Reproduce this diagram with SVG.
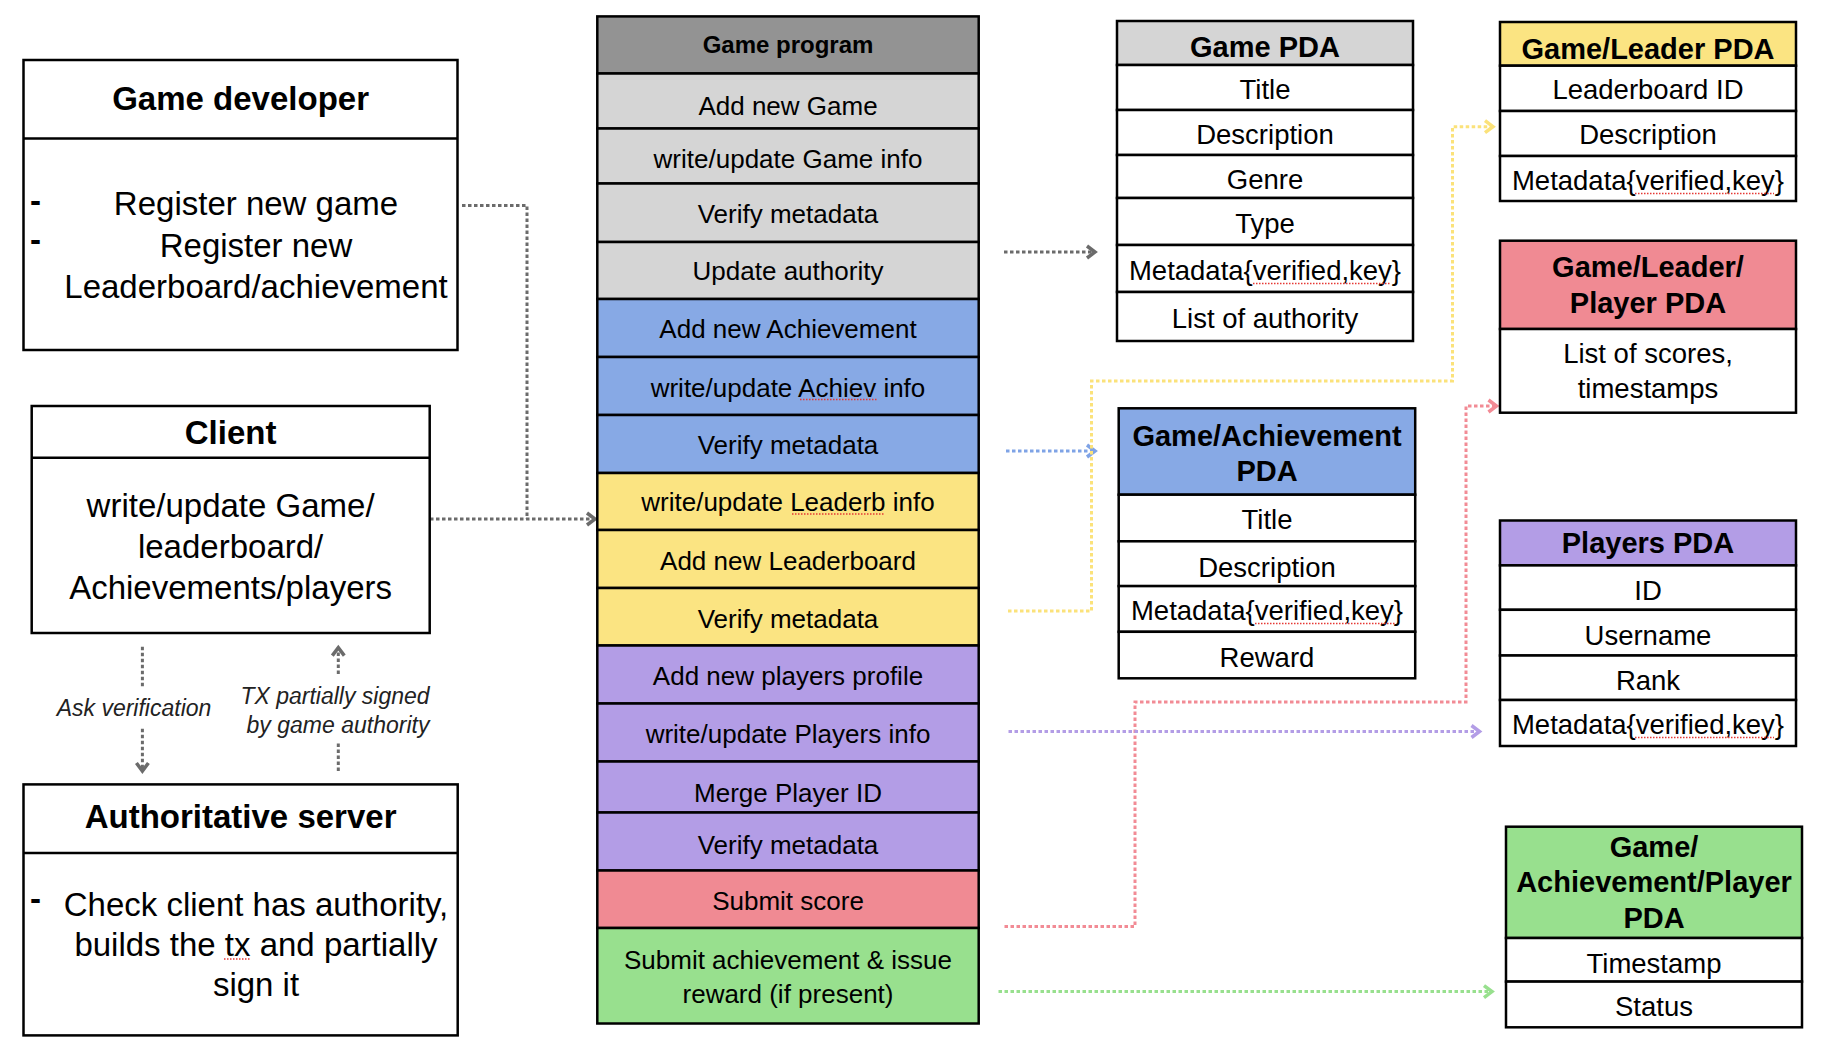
<svg xmlns="http://www.w3.org/2000/svg" width="1840" height="1050" viewBox="0 0 1840 1050">
<defs>
<style>
.bx{fill:#fff;stroke:#000;stroke-width:2.5}
.ln{stroke:#000;stroke-width:2.5}
.t{font-family:"Liberation Sans",Arial,sans-serif;fill:#000;text-anchor:middle}
.s{text-anchor:start;font-weight:bold}
.lt{font-size:33px}
.lb{font-size:33px;font-weight:bold}
.pt{font-size:26px}
.pb{font-size:24px;font-weight:bold}
.dt{font-size:27.5px}
.db{font-size:29px;font-weight:bold}
.it{font-size:23px;font-style:italic;fill:#222}
.c{fill:none;stroke-width:3;stroke-dasharray:3.5 2.5}
.sp{fill:none;stroke:#e53935;stroke-width:1.3;stroke-dasharray:1.5 1.5}
</style>
<marker id="ag" markerUnits="userSpaceOnUse" markerWidth="16" markerHeight="18" refX="11" refY="8" orient="auto"><path d="M3,2 L11,8 L3,14" fill="none" stroke="#6b6b6b" stroke-width="3.5"/></marker>
<marker id="ab" markerUnits="userSpaceOnUse" markerWidth="16" markerHeight="18" refX="11" refY="8" orient="auto"><path d="M3,2 L11,8 L3,14" fill="none" stroke="#7fa3e6" stroke-width="3.5"/></marker>
<marker id="ay" markerUnits="userSpaceOnUse" markerWidth="16" markerHeight="18" refX="11" refY="8" orient="auto"><path d="M3,2 L11,8 L3,14" fill="none" stroke="#fbe27a" stroke-width="3.5"/></marker>
<marker id="ar" markerUnits="userSpaceOnUse" markerWidth="16" markerHeight="18" refX="11" refY="8" orient="auto"><path d="M3,2 L11,8 L3,14" fill="none" stroke="#f28b95" stroke-width="3.5"/></marker>
<marker id="ap" markerUnits="userSpaceOnUse" markerWidth="16" markerHeight="18" refX="11" refY="8" orient="auto"><path d="M3,2 L11,8 L3,14" fill="none" stroke="#b39de6" stroke-width="3.5"/></marker>
<marker id="an" markerUnits="userSpaceOnUse" markerWidth="16" markerHeight="18" refX="11" refY="8" orient="auto"><path d="M3,2 L11,8 L3,14" fill="none" stroke="#98e08e" stroke-width="3.5"/></marker>
</defs>
<rect width="1840" height="1050" fill="#fff"/>

<g id="connectors">
<path class="c" stroke="#6b6b6b" d="M462,205.4 H527 V519"/>
<path class="c" stroke="#6b6b6b" d="M430,519 H595" marker-end="url(#ag)"/>
<path class="c" stroke="#6b6b6b" d="M1004,252 H1095" marker-end="url(#ag)"/>
<path class="c" stroke="#6b6b6b" d="M142.4,646.7 V686.7"/>
<path class="c" stroke="#6b6b6b" d="M142.4,728.8 V771" marker-end="url(#ag)"/>
<path class="c" stroke="#6b6b6b" d="M338.3,674 V647.6" marker-end="url(#ag)"/>
<path class="c" stroke="#6b6b6b" d="M338.3,771 V743.5"/>
<path class="c" stroke="#7fa3e6" d="M1006,451 H1095" marker-end="url(#ab)"/>
<path class="c" stroke="#fbe27a" d="M1008,611 H1091.5 V381 H1452.5 V126.7 H1493" marker-end="url(#ay)"/>
<path class="c" stroke="#f28b95" d="M1004.5,926.5 H1135 V702 H1466 V406 H1496.5" marker-end="url(#ar)"/>
<path class="c" stroke="#b39de6" d="M1008.5,731.5 H1479.5" marker-end="url(#ap)"/>
<path class="c" stroke="#98e08e" d="M998.5,991.6 H1492" marker-end="url(#an)"/>
<text class="t it" x="134" y="716">Ask verification</text>
<text class="t it" x="335" y="703.5">TX partially signed</text>
<text class="t it" x="338" y="733">by game authority</text>
</g>

<g id="game-developer">
<rect class="bx" x="23.5" y="60" width="434" height="290"/>
<line class="ln" x1="23.5" y1="138.5" x2="457.5" y2="138.5"/>
<text class="t lb" x="240.6" y="110">Game developer</text>
<text class="t lt s" x="30" y="211.5">-</text>
<text class="t lt s" x="30" y="251">-</text>
<text class="t lt" x="256" y="215">Register new game</text>
<text class="t lt" x="256" y="256.7">Register new</text>
<text class="t lt" x="256" y="298">Leaderboard/achievement</text>
</g>

<g id="client">
<rect class="bx" x="31.7" y="406" width="398" height="227"/>
<line class="ln" x1="31.7" y1="457.8" x2="429.7" y2="457.8"/>
<text class="t lb" x="230.6" y="444">Client</text>
<text class="t lt" x="230.6" y="517">write/update Game/</text>
<text class="t lt" x="230.6" y="558">leaderboard/</text>
<text class="t lt" x="230.6" y="599">Achievements/players</text>
</g>

<g id="authoritative-server">
<rect class="bx" x="23.5" y="784.4" width="434.2" height="251"/>
<line class="ln" x1="23.5" y1="853" x2="457.7" y2="853"/>
<text class="t lb" x="240.6" y="828">Authoritative server</text>
<text class="t lt s" x="30" y="910.4">-</text>
<text class="t lt" x="256" y="916">Check client has authority,</text>
<text class="t lt" x="256" y="956">builds the tx and partially</text>
<text class="t lt" x="256" y="996">sign it</text>
<path class="sp" d="M224,959 H251"/>
</g>

<g id="game-program">
<rect x="597.3" y="16.4" width="381.4" height="57.1" fill="#939393" stroke="#000" stroke-width="2.5"/>
<text class="t pb" x="788" y="53.3">Game program</text>
<rect x="597.3" y="73.5" width="381.4" height="55" fill="#d5d5d5" stroke="#000" stroke-width="2.5"/>
<rect x="597.3" y="128.5" width="381.4" height="55" fill="#d5d5d5" stroke="#000" stroke-width="2.5"/>
<rect x="597.3" y="183.5" width="381.4" height="58.5" fill="#d5d5d5" stroke="#000" stroke-width="2.5"/>
<rect x="597.3" y="242" width="381.4" height="57" fill="#d5d5d5" stroke="#000" stroke-width="2.5"/>
<rect x="597.3" y="299" width="381.4" height="58" fill="#87a9e5" stroke="#000" stroke-width="2.5"/>
<rect x="597.3" y="357" width="381.4" height="58" fill="#87a9e5" stroke="#000" stroke-width="2.5"/>
<rect x="597.3" y="415" width="381.4" height="58" fill="#87a9e5" stroke="#000" stroke-width="2.5"/>
<rect x="597.3" y="473" width="381.4" height="57" fill="#fbe482" stroke="#000" stroke-width="2.5"/>
<rect x="597.3" y="530" width="381.4" height="58" fill="#fbe482" stroke="#000" stroke-width="2.5"/>
<rect x="597.3" y="588" width="381.4" height="57.5" fill="#fbe482" stroke="#000" stroke-width="2.5"/>
<rect x="597.3" y="645.5" width="381.4" height="58" fill="#b39de6" stroke="#000" stroke-width="2.5"/>
<rect x="597.3" y="703.5" width="381.4" height="58" fill="#b39de6" stroke="#000" stroke-width="2.5"/>
<rect x="597.3" y="761.5" width="381.4" height="51" fill="#b39de6" stroke="#000" stroke-width="2.5"/>
<rect x="597.3" y="812.5" width="381.4" height="58" fill="#b39de6" stroke="#000" stroke-width="2.5"/>
<rect x="597.3" y="870.5" width="381.4" height="57.5" fill="#f08a93" stroke="#000" stroke-width="2.5"/>
<rect x="597.3" y="928" width="381.4" height="95.5" fill="#98e08e" stroke="#000" stroke-width="2.5"/>
<text class="t pt" x="788" y="115">Add new Game</text>
<text class="t pt" x="788" y="168.3">write/update Game info</text>
<text class="t pt" x="788" y="223.3">Verify metadata</text>
<text class="t pt" x="788" y="280">Update authority</text>
<text class="t pt" x="788" y="338.3">Add new Achievement</text>
<text class="t pt" x="788" y="396.7">write/update Achiev info</text>
<text class="t pt" x="788" y="454">Verify metadata</text>
<text class="t pt" x="788" y="511">write/update Leaderb info</text>
<text class="t pt" x="788" y="570">Add new Leaderboard</text>
<text class="t pt" x="788" y="628">Verify metadata</text>
<text class="t pt" x="788" y="685.2">Add new players profile</text>
<text class="t pt" x="788" y="743">write/update Players info</text>
<text class="t pt" x="788" y="801.6">Merge Player ID</text>
<text class="t pt" x="788" y="853.6">Verify metadata</text>
<text class="t pt" x="788" y="910.4">Submit score</text>
<text class="t pt" x="788" y="969.3">Submit achievement &amp; issue</text>
<text class="t pt" x="788" y="1003.3">reward (if present)</text>
<path class="sp" d="M800,399.5 H877"/>
<path class="sp" d="M792,514 H885"/>
</g>

<g id="game-pda">
<rect x="1117" y="21" width="296" height="44" fill="#d5d5d5" stroke="#000" stroke-width="2.5"/>
<rect class="bx" x="1117" y="65" width="296" height="45"/>
<rect class="bx" x="1117" y="110" width="296" height="45"/>
<rect class="bx" x="1117" y="155" width="296" height="43"/>
<rect class="bx" x="1117" y="198" width="296" height="47"/>
<rect class="bx" x="1117" y="245" width="296" height="47"/>
<rect class="bx" x="1117" y="292" width="296" height="49"/>
<text class="t db" x="1265" y="57.3">Game PDA</text>
<text class="t dt" x="1265" y="99">Title</text>
<text class="t dt" x="1265" y="144">Description</text>
<text class="t dt" x="1265" y="189">Genre</text>
<text class="t dt" x="1265" y="233.3">Type</text>
<text class="t dt" x="1265" y="280">Metadata{verified,key}</text>
<text class="t dt" x="1265" y="328.3">List of authority</text>
<path class="sp" d="M1253,283.5 H1390"/>
</g>

<g id="game-leader-pda">
<rect x="1500" y="22" width="296" height="43.7" fill="#fbe482" stroke="#000" stroke-width="2.5"/>
<rect class="bx" x="1500" y="65.7" width="296" height="45.3"/>
<rect class="bx" x="1500" y="111" width="296" height="45"/>
<rect class="bx" x="1500" y="156" width="296" height="45"/>
<text class="t db" x="1648" y="59.3">Game/Leader PDA</text>
<text class="t dt" x="1648" y="99.3">Leaderboard ID</text>
<text class="t dt" x="1648" y="144.3">Description</text>
<text class="t dt" x="1648" y="190">Metadata{verified,key}</text>
<path class="sp" d="M1635,193.5 H1774"/>
</g>

<g id="game-leader-player-pda">
<rect x="1500" y="240.7" width="296" height="88.3" fill="#f08a93" stroke="#000" stroke-width="2.5"/>
<rect class="bx" x="1500" y="329" width="296" height="83.7"/>
<text class="t db" x="1648" y="276.7">Game/Leader/</text>
<text class="t db" x="1648" y="313.3">Player PDA</text>
<text class="t dt" x="1648" y="363.3">List of scores,</text>
<text class="t dt" x="1648" y="398.3">timestamps</text>
</g>

<g id="game-achievement-pda">
<rect x="1118.7" y="408.3" width="296.5" height="86.4" fill="#87a9e5" stroke="#000" stroke-width="2.5"/>
<rect class="bx" x="1118.7" y="494.7" width="296.5" height="46.6"/>
<rect class="bx" x="1118.7" y="541.3" width="296.5" height="44.8"/>
<rect class="bx" x="1118.7" y="586.1" width="296.5" height="45.7"/>
<rect class="bx" x="1118.7" y="631.8" width="296.5" height="46.5"/>
<text class="t db" x="1267" y="445.7">Game/Achievement</text>
<text class="t db" x="1267" y="481">PDA</text>
<text class="t dt" x="1267" y="528.8">Title</text>
<text class="t dt" x="1267" y="576.6">Description</text>
<text class="t dt" x="1267" y="620.2">Metadata{verified,key}</text>
<text class="t dt" x="1267" y="666.7">Reward</text>
<path class="sp" d="M1255,623.5 H1396"/>
</g>

<g id="players-pda">
<rect x="1500" y="520.5" width="296" height="44.9" fill="#b39de6" stroke="#000" stroke-width="2.5"/>
<rect class="bx" x="1500" y="565.4" width="296" height="44.4"/>
<rect class="bx" x="1500" y="609.8" width="296" height="45.7"/>
<rect class="bx" x="1500" y="655.5" width="296" height="44.5"/>
<rect class="bx" x="1500" y="700" width="296" height="46"/>
<text class="t db" x="1648" y="552.9">Players PDA</text>
<text class="t dt" x="1648" y="600.2">ID</text>
<text class="t dt" x="1648" y="645.1">Username</text>
<text class="t dt" x="1648" y="689.6">Rank</text>
<text class="t dt" x="1648" y="734.4">Metadata{verified,key}</text>
<path class="sp" d="M1635,737.5 H1774"/>
</g>

<g id="game-achievement-player-pda">
<rect x="1506" y="826.7" width="296" height="111.3" fill="#98e08e" stroke="#000" stroke-width="2.5"/>
<rect class="bx" x="1506" y="938" width="296" height="43.6"/>
<rect class="bx" x="1506" y="981.6" width="296" height="45.7"/>
<text class="t db" x="1654" y="857">Game/</text>
<text class="t db" x="1654" y="892.3">Achievement/Player</text>
<text class="t db" x="1654" y="927.6">PDA</text>
<text class="t dt" x="1654" y="972.5">Timestamp</text>
<text class="t dt" x="1654" y="1015.7">Status</text>
</g>
</svg>
